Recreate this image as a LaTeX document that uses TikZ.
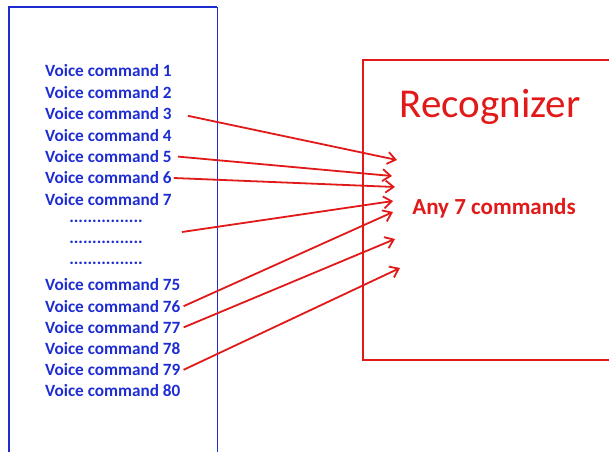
\documentclass[tikz,border=0pt]{standalone}
\usepackage{fontspec}
\setmainfont{Carlito}
\usepackage{xcolor}
\usepackage{tikz}
\usetikzlibrary{
    positioning,
    calc,
    arrows.meta
}
\definecolor{cmdblue}{RGB}{30,45,210}
\definecolor{recred}{RGB}{225,25,25}
\tikzset{
  cmd/.style = {
      anchor=west,
      inner sep=0pt,
      text=cmdblue,
      font=\fontsize{17.2}{19}\selectfont\bfseries
  },
  dotline/.style = {
      cmd,
      anchor=center
  },
  title/.style = {
      text=recred,
      inner sep=0pt,
      font=\fontsize{41}{44}\selectfont
  },
  note/.style = {
      text=recred,
      inner sep=0pt,
      font=\fontsize{23}{25}\selectfont\bfseries
  },
  wire/.style = {
      draw=recred,
      line width=1.8pt,
      -{Straight Barb[length=8pt,width=12pt,line width=1.8pt]}
  }
}

\begin{document}
\begin{tikzpicture}[x=1pt, y=-1pt]
        \useasboundingbox (0,0) rectangle (609,452);
        % Boxes
        \draw[cmdblue, line width=2.2pt] (9,452) -- (9,7) -- (217,7);
        \draw[cmdblue, line width=1pt] (217,7) -- (217,452);
        \draw[recred, line width=2pt] (609,60) -- (363,60) -- (363,360) -- (609,360);
        % Commands
        \node[cmd] (c1) at (45,71) {Voice command 1};
        \node[cmd] (c2) at ([yshift=-21.4pt]c1.west) {Voice command 2};
        \node[cmd] (c3) at ([yshift=-21.4pt]c2.west) {Voice command 3};
        \node[cmd] (c4) at ([yshift=-21.4pt]c3.west) {Voice command 4};
        \node[cmd] (c5) at ([yshift=-21.4pt]c4.west) {Voice command 5};
        \node[cmd] (c6) at ([yshift=-21.4pt]c5.west) {Voice command 6};
        \node[cmd] (c7) at ([yshift=-21.4pt]c6.west) {Voice command 7};
        \node[dotline] (d1) at (106,221) {................};
        \node[dotline] (d2) at ([yshift=-21.4pt]d1) {................};
        \node[dotline] (d3) at ([yshift=-21.4pt]d2) {................};
        \node[cmd] (c75) at (45,285) {Voice command 75};
        \node[cmd] (c76) at ([yshift=-21.2pt]c75.west) {Voice command 76};
        \node[cmd] (c77) at ([yshift=-21.2pt]c76.west) {Voice command 77};
        \node[cmd] (c78) at ([yshift=-21.2pt]c77.west) {Voice command 78};
        \node[cmd] (c79) at ([yshift=-21.2pt]c78.west) {Voice command 79};
        \node[cmd] (c80) at ([yshift=-21.2pt]c79.west) {Voice command 80};
        % Recognizer
        \node[title] (rec) at (490,107) {Recognizer};
        \node[note] (any) at (494,208) {Any 7 commands};
        \coordinate (t1) at (397,160);
        \coordinate (t2) at (392,176);
        \coordinate (t3) at (395,187);
        \coordinate (t4) at (393,201);
        \coordinate (t5) at (393,212);
        \coordinate (t6) at (395,239);
        \coordinate (t7) at (400,268);
        \coordinate (dfrom) at (182,232);
        % Edges
        \draw[wire] ([shift={(16pt,-2pt)}]c3.east) -- (t1);
        \draw[wire] ([xshift=6pt]c5.east) -- (t2);
        \draw[wire] ([xshift=2pt]c6.east) -- (t3);
        \draw[wire] (dfrom) -- (t4);
        \draw[wire] ([xshift=3pt]c76.east) -- (t5);
        \draw[wire] ([xshift=3pt]c77.east) -- (t6);
        \draw[wire] ([xshift=3pt]c79.east) -- (t7);
    \end{tikzpicture}
\end{document}
